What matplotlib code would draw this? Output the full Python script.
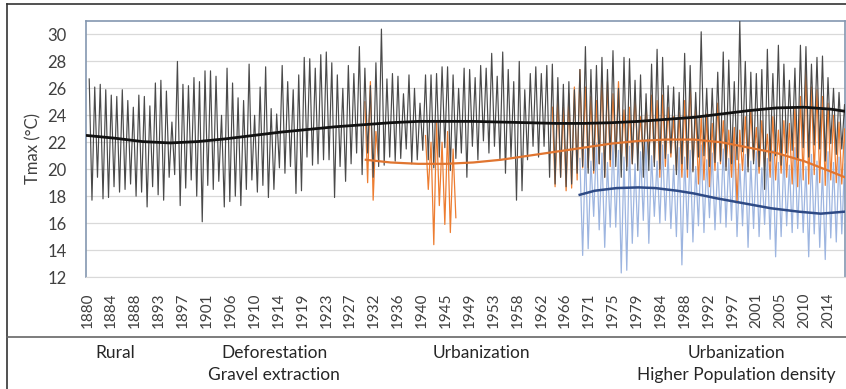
import matplotlib
matplotlib.use("Agg")
import matplotlib.pyplot as plt
from matplotlib.lines import Line2D
import numpy as np

plt.rcParams['font.family'] = ['Lato', 'DejaVu Sans']

# station 1: yearly summer peaks and winter lows, 1880-2017
black_start = 1880
black_peaks = [
    26.7, 26.1, 26.3, 25.9, 25.5, 25.4, 25.9, 25.1, 24.6, 25.5, 25.4, 24.7, 26.4, 26.6, 25.8, 23.5, 28.0,
    26.3, 26.2, 26.8, 26.5, 27.3, 27.3, 26.9, 24.0, 27.5, 26.4, 25.3, 25.1, 27.8, 24.0, 26.1, 27.6, 24.5,
    24.1, 27.7, 26.5, 25.9, 27.0, 28.3, 28.2, 27.5, 28.5, 28.7, 27.9, 27.0, 26.0, 27.7, 27.1, 29.1, 27.5,
    26.2, 27.9, 30.4, 26.7, 27.1, 26.9, 25.6, 27.0, 26.0, 24.9, 27.0, 27.0, 27.1, 27.6, 27.6, 27.0, 26.0,
    27.5, 27.4, 26.8, 27.7, 27.5, 28.6, 26.9, 28.7, 27.4, 26.5, 28.0, 25.9, 27.1, 27.6, 27.1, 27.7, 27.8,
    26.8, 26.3, 26.5, 25.9, 27.4, 29.1, 27.4, 27.7, 28.3, 27.4, 28.8, 26.0, 28.3, 28.2, 26.6, 27.0, 25.6,
    27.8, 28.9, 28.3, 26.2, 26.1, 25.7, 28.6, 27.7, 25.7, 30.2, 26.0, 26.0, 27.2, 28.7, 28.1, 26.5, 31.0,
    28.0, 27.2, 27.1, 27.4, 28.9, 27.1, 29.2, 27.8, 26.6, 27.5, 29.2, 29.1, 27.8, 28.3, 28.4, 26.8, 26.0,
    25.7, 24.8,
]
black_lows = [
    17.7, 19.4, 17.8, 17.9, 18.7, 18.3, 18.5, 18.9, 18.0, 18.3, 17.2, 18.7, 18.1, 17.7, 19.4, 19.6, 17.3,
    18.6, 19.2, 18.0, 16.1, 18.8, 18.5, 19.1, 17.2, 17.6, 18.0, 17.3, 18.5, 19.2, 18.3, 18.8, 17.9, 18.5,
    20.1, 19.7, 20.2, 18.2, 18.4, 20.9, 20.3, 20.4, 20.7, 20.7, 17.9, 20.2, 19.1, 20.4, 21.2, 19.6, 21.2,
    19.4, 20.2, 20.3, 20.9, 20.6, 20.8, 21.5, 20.4, 20.7, 21.4, 20.7, 20.1, 20.9, 21.6, 19.9, 20.8, 21.2,
    19.4, 21.7, 20.7, 22.1, 21.2, 21.7, 20.7, 19.7, 20.9, 17.7, 18.4, 20.7, 21.7, 20.9, 21.7, 19.4, 18.9,
    19.4, 18.7, 18.9, 19.7, 20.2, 19.7, 19.9, 20.4, 19.4, 20.7, 20.2, 19.4, 19.9, 20.4, 19.9, 19.4, 19.9,
    20.2, 20.0, 20.8, 21.2, 19.6, 20.4, 20.0, 19.8, 20.9, 21.0, 20.2, 20.5, 20.6, 19.9, 20.4, 20.7, 21.3,
    19.8, 20.4, 20.2, 18.5, 20.6, 21.0, 20.3, 21.2, 21.4, 20.7, 21.6, 20.9, 21.8, 21.5, 20.6, 21.9, 21.1,
    21.5, 21.8,
]

# station 2: three record blocks
orange_blocks = [
    (1930, [25.0, 26.5, 22.8], [19.0, 17.7, 20.6]),
    (1941, [22.5, 22.0, 23.5, 22.0, 22.8, 21.5], [18.5, 14.4, 17.3, 15.9, 15.3, 16.4]),
    (1964,
     [24.6, 25.4, 24.6, 25.6, 26.1, 27.4, 26.1, 25.4, 25.1, 26.8, 26.5, 25.6, 26.5, 24.4, 24.6, 25.4,
      23.9, 24.9, 25.5, 25.1, 25.5, 24.6, 23.9, 24.2, 25.1, 26.5, 24.6, 23.9, 24.1, 23.4, 24.9, 23.6,
      22.9, 23.1, 22.9, 23.9, 24.4, 23.1, 23.6, 22.6, 23.9, 22.9, 23.6, 23.4, 24.6, 25.4, 27.4, 26.1,
      25.9, 25.4, 24.9, 24.0, 23.5, 23.0],
     [18.7, 19.4, 18.4, 18.6, 19.2, 20.1, 20.1, 19.7, 20.4, 19.4, 20.2, 20.9, 20.7, 20.2, 20.4, 21.2,
      20.7, 20.7, 20.5, 19.4, 20.2, 20.9, 19.9, 19.4, 19.4, 19.9, 18.9, 19.2, 18.7, 19.9, 20.4, 20.2,
      19.4, 17.5, 19.9, 20.2, 20.6, 19.7, 20.2, 19.4, 19.2, 19.7, 19.4, 18.9, 18.7, 19.2, 18.9, 19.6,
      19.0, 18.8, 19.2, 19.0, 18.9, 19.3]),
]

# station 3: 1969-2017
blue_start = 1969
blue_peaks = [
    20.8, 21.5, 20.6, 21.9, 21.2, 20.5, 22.0, 21.4, 20.9, 21.7, 20.4, 21.3, 22.2, 21.0, 20.6, 21.8, 21.1,
    20.3, 21.6, 20.9, 21.4, 20.2, 21.8, 20.7, 21.2, 20.5, 21.5, 20.8, 21.9, 20.4, 21.1, 20.6, 21.3, 20.1,
    20.8, 21.4, 20.5, 21.0, 20.3, 21.6, 20.7, 20.2, 21.1, 20.6, 20.0, 21.3, 20.5, 20.9, 20.4,
]
blue_lows = [
    13.6, 14.1, 16.5, 15.5, 14.2, 15.7, 15.7, 12.3, 12.5, 14.5, 15.0, 16.2, 14.5, 16.5, 16.0, 16.2, 15.6,
    15.0, 12.9, 15.3, 14.6, 15.8, 15.3, 16.4, 15.5, 16.0, 15.7, 16.2, 15.0, 15.8, 14.2, 15.6, 15.0, 15.9,
    14.8, 13.5, 15.0, 15.8, 15.3, 15.6, 15.3, 13.5, 15.2, 14.2, 13.3, 14.9, 14.6, 15.2, 12.0,
]

# polynomial trend lines
black_trend_years = [1880, 1885, 1890, 1895, 1900, 1905, 1910, 1915, 1920, 1925, 1930, 1935, 1940, 1945,
                     1950, 1955, 1960, 1965, 1970, 1975, 1980, 1985, 1990, 1995, 2000, 2005, 2010, 2015, 2017.4]
black_trend = [22.5, 22.3, 22.05, 21.95, 22.05, 22.25, 22.5, 22.75, 22.95, 23.15, 23.3, 23.45, 23.55, 23.55,
               23.55, 23.5, 23.45, 23.4, 23.4, 23.45, 23.55, 23.7, 23.85, 24.1, 24.35, 24.55, 24.6, 24.45, 24.3]
orange_trend_years = [1930.5, 1935, 1940, 1945, 1950, 1955, 1960, 1965, 1970, 1975, 1980, 1985, 1990, 1995,
                      2000, 2005, 2010, 2015, 2017.4]
orange_trend = [20.7, 20.5, 20.4, 20.4, 20.5, 20.7, 21.0, 21.3, 21.6, 21.9, 22.1, 22.2, 22.2, 22.0,
                21.6, 21.2, 20.6, 19.8, 19.4]
blue_trend_years = [1969.3, 1972, 1976, 1980, 1983, 1987, 1990, 1994, 2000, 2004, 2009, 2013, 2017.4]
blue_trend = [18.1, 18.4, 18.6, 18.65, 18.6, 18.4, 18.2, 17.85, 17.4, 17.1, 16.85, 16.7, 16.85]

tick_labels = ['1880', '1884', '1888', '1893', '1897', '1901', '1906', '1910', '1914', '1919', '1923',
               '1927', '1932', '1936', '1940', '1945', '1949', '1953', '1958', '1962', '1966', '1971',
               '1975', '1979', '1984', '1988', '1992', '1997', '2001', '2005', '2010', '2014']

period_labels = ['Rural', 'Deforestation\nGravel extraction', 'Urbanization',
                 'Urbanization\nHigher Population density']
period_x = [115, 274, 481, 736]


def month_index(year):
    return (np.asarray(year, dtype=float) - 1880) * 12


def zigzag(start, peaks, lows):
    xs, ys = [], []
    for i, (p, t) in enumerate(zip(peaks, lows)):
        xs += [(start - 1880 + i) * 12 + 4, (start - 1880 + i) * 12 + 10]
        ys += [p, t]
    return np.array(xs), np.array(ys)


W, H = 846, 389
fig = plt.figure(figsize=(W / 100, H / 100), dpi=100)
ax = fig.add_axes([86 / W, 1 - 277 / H, 759 / W, 256 / H])

ax.set_axisbelow(True)
ax.grid(axis='y', color='#d9d9d9', lw=0.9)

bx, by = zigzag(blue_start, blue_peaks, blue_lows)
ax.plot(bx, by, color='#9db5e0', lw=0.9, zorder=2)

for start, pk, lo in orange_blocks:
    ox, oy = zigzag(start, pk, lo)
    ax.plot(ox, oy, color='#ed7d31', lw=0.9, zorder=3)

kx, ky = zigzag(black_start, black_peaks, black_lows)
ax.plot(kx, ky, color='#4a4a4a', lw=0.85, zorder=4)

ax.plot(month_index(blue_trend_years), blue_trend, color='#2e4a85', lw=1.8, zorder=5)
ax.plot(month_index(orange_trend_years), orange_trend, color='#e07530', lw=1.6, zorder=5)
ax.plot(month_index(black_trend_years), black_trend, color='#111111', lw=2.0, zorder=6)

ax.set_xlim(-3, 1649)
ax.set_ylim(12, 31)
ax.set_yticks(np.arange(12, 31, 2))
ax.set_xticks(np.arange(len(tick_labels)) * 52)
ax.set_xticklabels(tick_labels, rotation=90)
ax.tick_params(axis='y', length=0, pad=14, labelsize=12, labelcolor='#404040')
ax.tick_params(axis='x', length=0, pad=11, labelsize=11, labelcolor='#404040')
for side in ['left', 'top', 'right']:
    ax.spines[side].set_color('#8497b0')
    ax.spines[side].set_linewidth(1.2)
ax.spines['bottom'].set_color('#d9d9d9')

fig.text(33 / W, 1 - 149 / H, 'Tmax (°C)', rotation=90, ha='center', va='center',
         fontsize=12, color='#404040')

# frame and divider of the chart box
fig.add_artist(Line2D([7 / W, 1], [1 - 4 / H, 1 - 4 / H], color='#333333', lw=1.2))
fig.add_artist(Line2D([7 / W, 7 / W], [0, 1 - 4 / H], color='#333333', lw=1.2))
fig.add_artist(Line2D([7 / W, 1], [1 - 337 / H, 1 - 337 / H], color='#666666', lw=1.2))

for label, px in zip(period_labels, period_x):
    fig.text(px / W, 1 - 345 / H, label, ha='center', va='top', fontsize=12.5,
             color='#262626', linespacing=1.45)

fig.savefig('out.png', dpi=100)
